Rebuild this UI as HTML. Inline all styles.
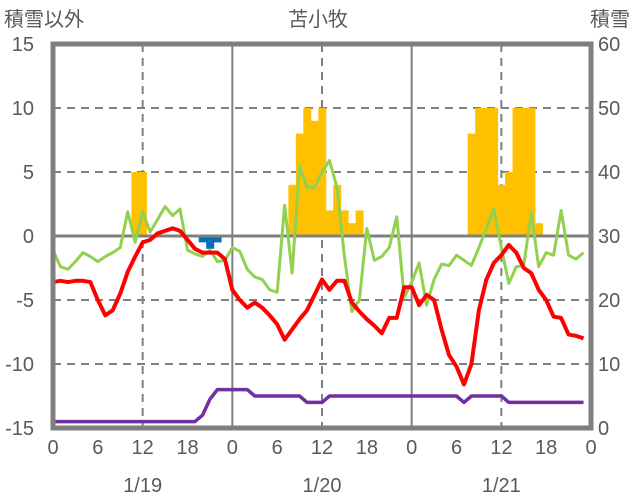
<!DOCTYPE html>
<html><head><meta charset="utf-8"><style>
body{margin:0;background:#fff;}
svg{display:block;font-family:"Liberation Sans","Noto Sans CJK JP",sans-serif;}
text{fill:#595959;font-size:20px;}
</style></head><body>
<svg id="chart" width="636" height="501"></svg>
<script>
const hours = Array.from({length:72},(_,i)=>i);
const dayLabels = ["1/19","1/20","1/21"];
const hourTicks = [0,6,12,18,0,6,12,18,0,6,12,18,0];
const leftTicks = [15,10,5,0,-5,-10,-15];
const rightTicks = [60,50,40,30,20,10,0];
const redSeries = [-3.6,-3.5,-3.6,-3.5,-3.5,-3.6,-5,-6.2,-5.8,-4.5,-2.8,-1.6,-0.5,-0.3,0.2,0.4,0.6,0.4,-0.3,-1,-1.3,-1.3,-1.3,-1.8,
 -4.2,-5,-5.6,-5.2,-5.6,-6.2,-6.9,-8.1,-7.3,-6.5,-5.8,-4.6,-3.4,-4.2,-3.5,-3.5,-5.2,-5.9,-6.5,-7,-7.6,-6.4,-6.4,-4,
 -4,-5.4,-4.6,-5,-7.3,-9.3,-10.2,-11.6,-10,-5.8,-3.4,-2.1,-1.5,-0.7,-1.3,-2.5,-2.9,-4.2,-5,-6.3,-6.4,-7.7,-7.8,-8];
const greenSeries = [-1.1,-2.4,-2.6,-2,-1.3,-1.6,-2,-1.6,-1.3,-0.9,1.9,-0.5,1.9,0.3,1.3,2.3,1.6,2.1,-1.1,-1.4,-1.6,-1.1,-2,-1.9,
 -0.9,-1.2,-2.6,-3.2,-3.4,-4.2,-4.4,2.4,-2.9,5.5,3.8,3.8,5,5.9,3.8,-1.6,-5.9,-5,0.6,-1.9,-1.6,-0.9,1.5,-4.8,
 -3.6,-2.1,-5.4,-3.4,-2.2,-2.3,-1.5,-1.9,-2.3,-0.9,0.6,2.1,-0.9,-3.7,-2.4,-2.3,1.8,-2.4,-1.3,-1.5,2,-1.5,-1.8,-1.3];
const snowfallBars = [0,0,0,0,0,0,0,0,0,0,0,5,5,0,0,0,0,0,0,0,-0.5,-1,-0.5,0,
 0,0,0,0,0,0,0,0,4,8,10,9,10,2,4,2,1,2,0,0,0,0,0,0,
 0,0,0,0,0,0,0,0,8,10,10,10,4,5,10,10,10,1,0,0,0,0,0,0];
const snowDepth = [1,1,1,1,1,1,1,1,1,1,1,1,1,1,1,1,1,1,1,1,2,4.5,6,6,
 6,6,6,5,5,5,5,5,5,5,4,4,4,5,5,5,5,5,5,5,5,5,5,5,
 5,5,5,5,5,5,5,4,5,5,5,5,5,4,4,4,4,4,4,4,4,4,4,4];

const X0=53,X1=591,Y0=44,Y1=428;
const xs=h=>X0+(X1-X0)*h/72;
const yl=v=>Y0+(15-v)*(Y1-Y0)/30;
const yr=v=>Y0+(60-v)*(Y1-Y0)/60;
const svg=document.getElementById('chart');
const NS='http://www.w3.org/2000/svg';
function mk(tag,attrs){const e=document.createElementNS(NS,tag);for(const k in attrs)e.setAttribute(k,attrs[k]);svg.appendChild(e);return e;}

[10,5,-5,-10].forEach(v=>{
 const g=mk('line',{x1:X0,x2:X1,y1:yl(v),y2:yl(v),stroke:'#7f7f7f','stroke-width':2,'stroke-dasharray':'8,6'});
 
 
});
[12,36,60].forEach(h=>{
 const g=mk('line',{x1:xs(h),x2:xs(h),y1:Y0,y2:Y1,stroke:'#7f7f7f','stroke-width':2,'stroke-dasharray':'8,6'});
 
 
});
[24,48].forEach(h=>{
 const g=mk('line',{x1:xs(h),x2:xs(h),y1:Y0,y2:Y1,stroke:'#7f7f7f','stroke-width':2});
 
 
});

const bw=(X1-X0)/72;
snowfallBars.forEach((v,h)=>{
 if(!v)return;
 const y=Math.min(yl(0),yl(v)),hh=Math.abs(yl(v)-yl(0));
 const b=mk('rect',{x:xs(h)-bw/2,y:y,width:bw+0.5,height:hh,fill:v>0?'#ffc000':'#0070c0'});
 
 
});
const z=mk('line',{x1:X0,x2:X1,y1:yl(0),y2:yl(0),stroke:'#7f7f7f','stroke-width':3});



function line(arr,fy,color,w,name){
 const p=mk('polyline',{points:arr.map((v,h)=>xs(h)+','+fy(v)).join(' '),fill:'none',stroke:color,'stroke-width':w,'stroke-linejoin':'round'});
 
 
}
line(snowDepth,yr,'#7030a0',3.5,'snow-depth-line');
line(greenSeries,yl,'#92d050',3,'green-series-line');
line(redSeries,yl,'#ff0000',4,'temperature-line');

const f=mk('rect',{x:X0,y:Y0,width:X1-X0,height:Y1-Y0,fill:'none',stroke:'#7f7f7f','stroke-width':5});



leftTicks.forEach(v=>{
 const t=mk('text',{x:34,y:yl(v)+7,'text-anchor':'end'});t.textContent=v;
 
 
});
rightTicks.forEach(v=>{
 const t=mk('text',{x:598,y:yr(v)+7,'text-anchor':'start'});t.textContent=v;
 
 
});
hourTicks.forEach((v,i)=>{
 const t=mk('text',{x:xs(i*6),y:454,'text-anchor':'middle'});t.textContent=v;
 
 
});
dayLabels.forEach((d,i)=>{
 const t=mk('text',{x:xs(i*24+12),y:492,'text-anchor':'middle'});t.textContent=d;
 
 
});
[['積雪以外',4,26,'start','left-axis-title'],['苫小牧',318,26,'middle','chart-title'],['積雪',630,26,'end','right-axis-title']].forEach(a=>{
 const t=mk('text',{x:a[1],y:a[2],'text-anchor':a[3]});t.textContent=a[0];
 
 
});
</script>
</body></html>
